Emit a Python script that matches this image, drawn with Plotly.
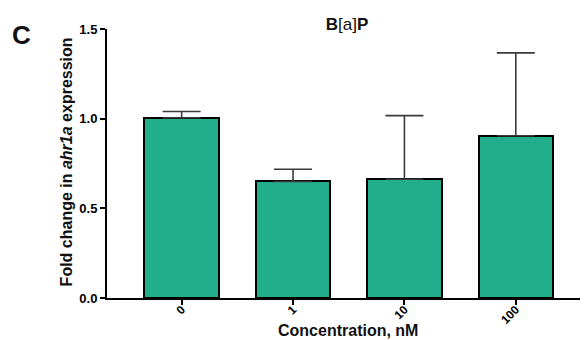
import plotly.graph_objects as go

categories = ["0", "1", "10", "100"]
fold_change = [1.005, 0.65, 0.662, 0.905]
sem_upper = [0.035, 0.068, 0.355, 0.462]

bar_color = "#22AE8A"
font_family = "Liberation Sans, Arial, sans-serif"

# the page body has an 8px margin, so the figure is 8px smaller than the window
OFF = 8
W, H = 588 - OFF, 340 - OFF
L, T, R = 106.5 - OFF, 29 - OFF, 0
B = H - (298.3 - OFF)
PW, PH = W - L - R, H - T - B


def px(sx):
    return (sx - OFF - L) / PW


def py(sy):
    return (H - B - (sy - OFF)) / PH


fig = go.Figure()
fig.add_trace(go.Bar(
    x=categories,
    y=fold_change,
    width=0.67,
    marker=dict(color=bar_color, line=dict(color="black", width=2)),
    error_y=dict(type="data", symmetric=False, array=sem_upper,
                 arrayminus=[0] * len(sem_upper),
                 color="#3a3a3a", thickness=1.6, width=19),
))

fig.update_layout(
    width=W, height=H,
    margin=dict(l=L, r=R, t=T, b=B, pad=0, autoexpand=False),
    plot_bgcolor="white", paper_bgcolor="white",
    showlegend=False,
    font=dict(family=font_family, color="black"),
    title=dict(text="<b>B</b>[a]<b>P</b>", x=(347 - OFF) / W, xanchor="center",
               y=1 - (24 - OFF) / H, yanchor="middle",
               font=dict(size=17, family=font_family, color="#111")),
    bargap=0,
)

fig.update_xaxes(
    type="category",
    range=[-0.67, 3.648],
    automargin=False,
    showline=True, linecolor="black", linewidth=2,
    ticks="outside", ticklen=5, tickwidth=1.5, tickcolor="black",
    tickangle=-45,
    ticklabelstandoff=-7,
    tickfont=dict(size=12, family=font_family, weight="bold"),
    showgrid=False, zeroline=False,
)

fig.update_yaxes(
    range=[0, 1.5],
    automargin=False,
    tickvals=[0, 0.5, 1.0, 1.5],
    ticktext=["0.0", "0.5", "1.0", "1.5"],
    showline=True, linecolor="black", linewidth=2,
    ticks="outside", ticklen=5, tickwidth=1.5, tickcolor="black",
    tickfont=dict(size=13, family=font_family, weight="bold"),
    showgrid=False, zeroline=False,
)

fig.add_annotation(
    text="<b>Fold change in <i>ahr1a</i> expression</b>",
    x=px(66), y=py(162), xref="paper", yref="paper",
    xanchor="center", yanchor="middle", showarrow=False, textangle=-90,
    font=dict(size=16, family=font_family, color="#111"),
)
fig.add_annotation(
    text="<b>Concentration, nM</b>",
    x=px(348), y=py(331), xref="paper", yref="paper",
    xanchor="center", yanchor="middle", showarrow=False,
    font=dict(size=16, family=font_family, color="#111"),
)
fig.add_annotation(
    text="<b>C</b>", x=px(21), y=py(35), xref="paper", yref="paper",
    xanchor="center", yanchor="middle", showarrow=False,
    font=dict(size=26, family=font_family, color="#111"),
)

fig.write_html("out.html")
